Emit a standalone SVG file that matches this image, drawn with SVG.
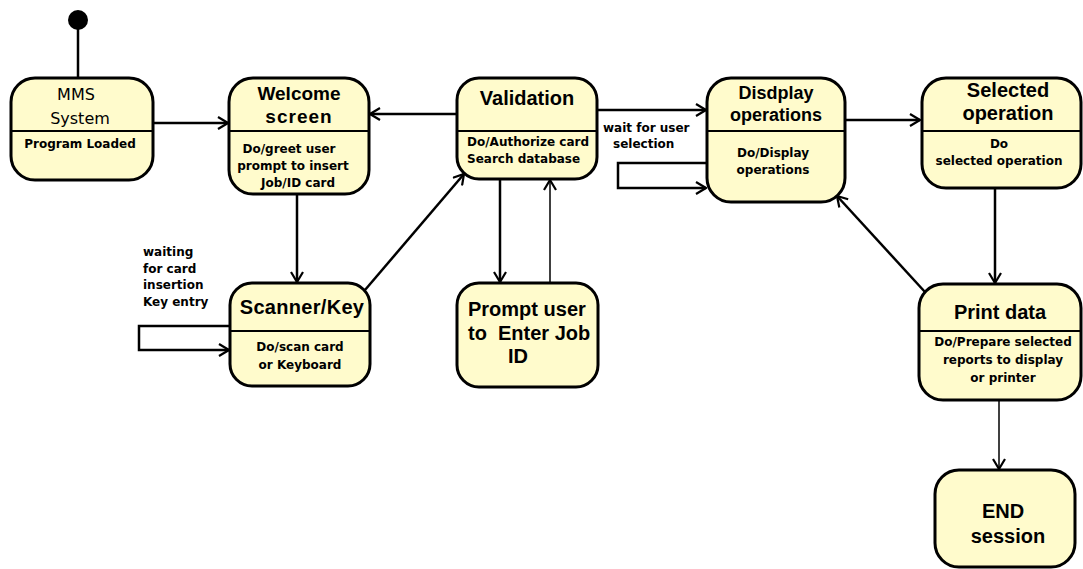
<svg xmlns="http://www.w3.org/2000/svg" width="1083" height="569" viewBox="0 0 1083 569">
  <style>
    .state { fill: #fffbcc; stroke: #000; stroke-width: 3; }
    .div { stroke: #000; stroke-width: 2; }
    .title { font-family: "Liberation Sans", Arial, sans-serif; font-weight: bold; fill: #000; text-anchor: middle; }
    .title-l { font-family: "Liberation Sans", Arial, sans-serif; font-weight: bold; font-size: 20px; fill: #000; }
    .body { font-family: "DejaVu Sans", Verdana, sans-serif; font-weight: bold; font-size: 12px; fill: #000; text-anchor: middle; }
    .lbl { font-family: "DejaVu Sans", Verdana, sans-serif; font-weight: bold; font-size: 12px; fill: #000; }
    .edge { fill: none; stroke: #000; stroke-width: 2.5; }
    .thin { fill: none; stroke: #000; stroke-width: 1.5; }
  </style>
  <defs>
    <marker id="open" viewBox="0 0 12 14" refX="11" refY="7" markerWidth="12" markerHeight="14" markerUnits="userSpaceOnUse" orient="auto">
      <path d="M1,1 L11,7 L1,13" fill="none" stroke="#000" stroke-width="2.2"/>
    </marker>
  </defs>

  <rect width="1083" height="569" fill="#fff"/>

  <!-- connectors -->
  <g id="connectors">
    <line class="edge" x1="78" y1="28" x2="78" y2="78"/>
    <line class="edge" x1="153" y1="123" x2="228" y2="123" marker-end="url(#open)"/>
    <line class="edge" x1="457" y1="114" x2="370" y2="114" marker-end="url(#open)"/>
    <line class="edge" x1="597" y1="110" x2="706" y2="110" marker-end="url(#open)"/>
    <polyline class="edge" points="707,163 618,163 618,188 706,188" marker-end="url(#open)"/>
    <line class="edge" x1="845" y1="120" x2="920" y2="120" marker-end="url(#open)"/>
    <line class="edge" x1="995" y1="188" x2="995" y2="283" marker-end="url(#open)"/>
    <line class="edge" x1="925" y1="292" x2="837" y2="196" marker-end="url(#open)"/>
    <line class="thin" x1="999" y1="400" x2="999" y2="469" marker-end="url(#open)"/>
    <line class="edge" x1="297" y1="194" x2="297" y2="282" marker-end="url(#open)"/>
    <line class="edge" x1="365" y1="290" x2="464" y2="174" marker-end="url(#open)"/>
    <polyline class="edge" points="230,326 139,326 139,350 229,350" marker-end="url(#open)"/>
    <line class="edge" x1="500" y1="179" x2="500" y2="282" marker-end="url(#open)"/>
    <line class="thin" x1="550" y1="283" x2="550" y2="180" marker-end="url(#open)"/>
    <text class="lbl" x="603" y="132">wait for user</text>
    <text class="lbl" x="613" y="148">selection</text>
    <text class="lbl" x="143" y="256">waiting</text>
    <text class="lbl" x="143" y="273">for card</text>
    <text class="lbl" x="143" y="289">insertion</text>
    <text class="lbl" x="143" y="306">Key entry</text>
  </g>

  <!-- initial pseudo-state -->
  <g id="start">
    <circle cx="78" cy="20" r="10" fill="#000"/>
  </g>

  <g id="mms-system">
    <rect class="state" x="11" y="78" width="142" height="102" rx="24"/>
    <line class="div" x1="11" y1="131" x2="153" y2="131"/>
    <text x="76" y="100" font-family="DejaVu Sans, sans-serif" font-size="16" text-anchor="middle">MMS</text>
    <text x="80" y="124" font-family="DejaVu Sans, sans-serif" font-size="16" text-anchor="middle">System</text>
    <text class="body" x="80" y="148">Program Loaded</text>
  </g>

  <g id="welcome-screen">
    <rect class="state" x="229" y="78" width="140" height="116" rx="24"/>
    <line class="div" x1="229" y1="131" x2="369" y2="131"/>
    <text class="title" x="299" y="100" font-size="19">Welcome</text>
    <text class="title" x="299" y="123" font-size="19" letter-spacing="1">screen</text>
    <text class="body" x="289" y="153">Do/greet user</text>
    <text class="body" x="293" y="170">prompt to insert</text>
    <text class="body" x="298" y="187">Job/ID card</text>
  </g>

  <g id="validation">
    <rect class="state" x="457" y="78" width="140" height="101" rx="22"/>
    <line class="div" x1="457" y1="131" x2="597" y2="131"/>
    <text class="title" x="527" y="105" font-size="20">Validation</text>
    <text class="lbl" x="467" y="146">Do/Authorize card</text>
    <text class="lbl" x="467" y="163">Search database</text>
  </g>

  <g id="display-operations">
    <rect class="state" x="707" y="78" width="138" height="124" rx="24"/>
    <line class="div" x1="707" y1="131" x2="845" y2="131"/>
    <text class="title" x="776" y="99" font-size="18">Disdplay</text>
    <text class="title" x="776" y="121" font-size="18">operations</text>
    <text class="body" x="773" y="157">Do/Display</text>
    <text class="body" x="773" y="174">operations</text>
  </g>

  <g id="selected-operation">
    <rect class="state" x="922" y="78" width="159" height="110" rx="24"/>
    <line class="div" x1="922" y1="131" x2="1081" y2="131"/>
    <text class="title" x="1008" y="97" font-size="20">Selected</text>
    <text class="title" x="1008" y="120" font-size="20">operation</text>
    <text class="body" x="999" y="148">Do</text>
    <text class="body" x="999" y="165">selected operation</text>
  </g>

  <g id="scanner-key">
    <rect class="state" x="230" y="283" width="140" height="103" rx="22"/>
    <line class="div" x1="230" y1="331" x2="370" y2="331"/>
    <text class="title" x="302" y="314" font-size="20" letter-spacing="0.3">Scanner/Key</text>
    <text class="body" x="300" y="351">Do/scan card</text>
    <text class="body" x="300" y="369">or Keyboard</text>
  </g>

  <g id="prompt-user">
    <rect class="state" x="457" y="283" width="141" height="104" rx="22"/>
    <text class="title-l" x="468" y="316">Prompt user</text>
    <text class="title-l" x="468" y="340" xml:space="preserve">to  Enter Job</text>
    <text class="title-l" x="508" y="363">ID</text>
  </g>

  <g id="print-data">
    <rect class="state" x="919" y="284" width="162" height="116" rx="24"/>
    <line class="div" x1="919" y1="331" x2="1081" y2="331"/>
    <text class="title" x="1000" y="319" font-size="20">Print data</text>
    <text class="body" x="1003" y="346">Do/Prepare selected</text>
    <text class="body" x="1003" y="364">reports to display</text>
    <text class="body" x="1003" y="382">or printer</text>
  </g>

  <g id="end-session">
    <rect class="state" x="935" y="470" width="140" height="97" rx="24"/>
    <text class="title" x="1003" y="518" font-size="20">END</text>
    <text class="title" x="1008" y="543" font-size="20">session</text>
  </g>
</svg>
